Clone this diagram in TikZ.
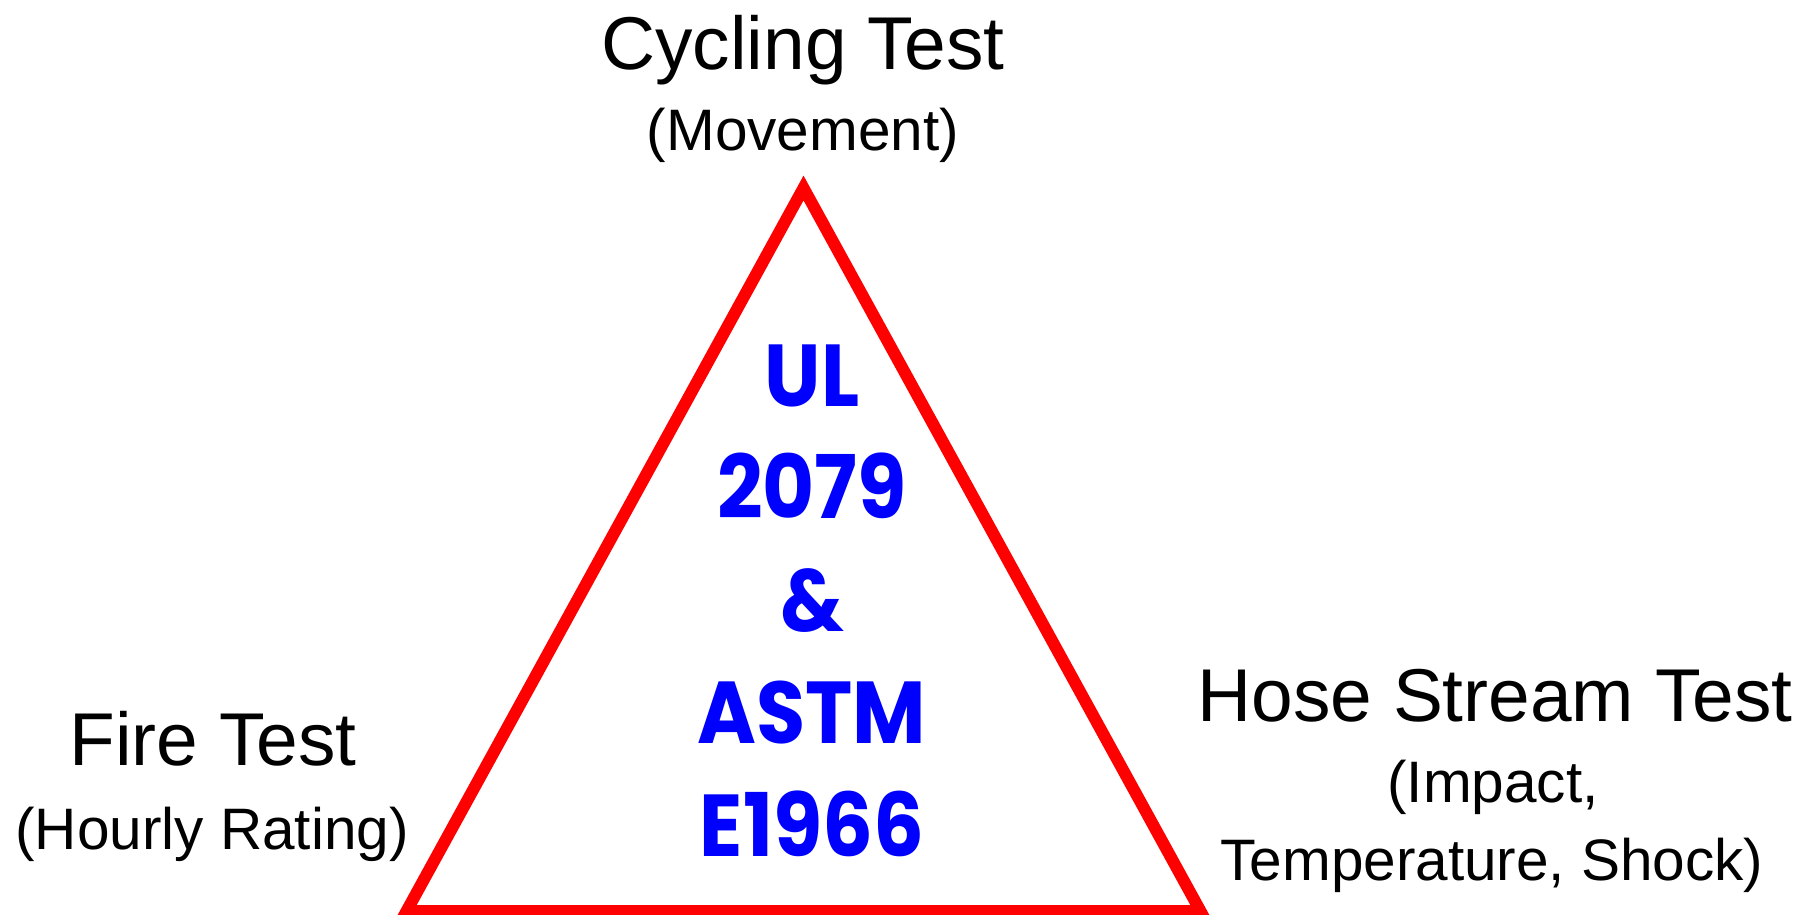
\documentclass[tikz,border=0pt]{standalone}
\usepackage{fontspec}
\setmainfont{Liberation Sans}
\newfontfamily\stdfont[FakeStretch=0.91]{Poppins}
\begin{document}
\begin{tikzpicture}
          [x=0.02cm,y=-0.02cm,
          title/.style={anchor=base,text=black,font=\fontsize{42.6}{50}\selectfont},
          sub/.style={anchor=base,text=black,font=\fontsize{33.3}{40}\selectfont},
          std/.style={anchor=base,text=blue,font=\stdfont\bfseries\fontsize{50}{60}\selectfont},
          tri/.style={draw=red,line width=6.8pt,line join=miter}]

            \useasboundingbox (0,0) rectangle (1804,914);

            % corners of the triangle
            \coordinate (top) at (803.5,188);
            \coordinate (left) at (406.6,911);
            \coordinate (right) at (1200.4,911);

            \draw [tri] (top) -- (left) -- (right) -- cycle;

            % the three tests
            \node (cycling) [title] at (803,69) {Cycling Test};
            \node (movement) [sub] at (803,150) {(Movement)};

            \node (fire) [title] at (213,765) {Fire Test};
            \node (hourly) [sub] at (212,849) {(Hourly Rating)};

            \node (hose) [title] at (1495,721) {Hose Stream Test};
            \node (impact) [sub] at (1493,802) {(Impact,};
            \node (shock) [sub] at (1492,880) {Temperature, Shock)};

            % standards in the middle
            \node (ul) [std] at (812,406) {UL};
            \node (num) [std] at (812,518) {2079};
            \node (amp) [std] at (812,631) {\&};
            \node (astm) [std] at (812,743) {ASTM};
            \node (e1966) [std] at (812,856) {E1966};

        \end{tikzpicture}
\end{document}
